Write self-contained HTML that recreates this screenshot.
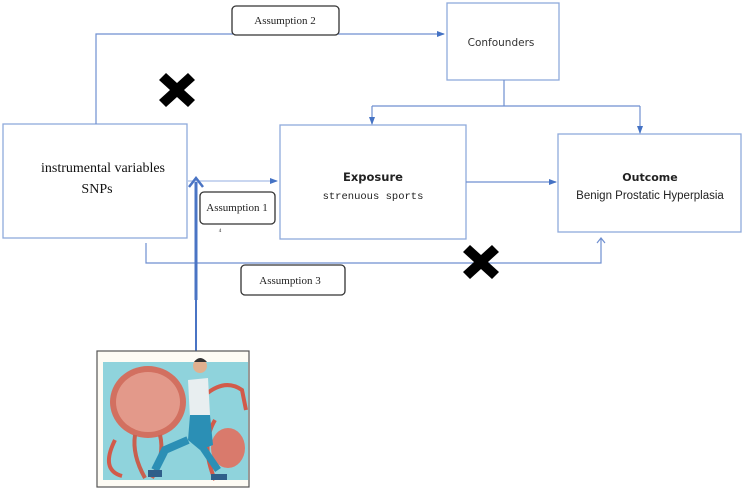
<!DOCTYPE html>
<html><head><meta charset="utf-8"><style>
html,body{margin:0;padding:0;background:#fff;}
svg{display:block;}
</style></head><body>
<svg width="745" height="492" viewBox="0 0 745 492" xmlns="http://www.w3.org/2000/svg">
<defs>
<marker id="a" markerWidth="8" markerHeight="8" refX="7" refY="4" orient="auto" markerUnits="userSpaceOnUse"><path d="M0,1 L8,4 L0,7 Z" fill="#4472c4"/></marker>
</defs>
<g fill="#fff" stroke="#8faadc" stroke-width="1.3">
<rect x="3" y="124" width="184" height="114"/>
<rect x="280" y="125" width="186" height="114"/>
<rect x="447" y="3" width="112" height="77"/>
<rect x="558" y="134" width="183" height="98"/>
</g>
<g fill="none" stroke="#6f8fd0" stroke-width="1.2">
<path d="M96,124 V34 H444" marker-end="url(#a)"/>
<path d="M504,80 V106"/>
<path d="M372,106 H640"/>
<path d="M372,106 V124" marker-end="url(#a)"/>
<path d="M640,106 V133" marker-end="url(#a)"/>
<path d="M466,182 H556" marker-end="url(#a)"/>
<path d="M188,181 H277" stroke="#a9bde6" marker-end="url(#a)"/>
<path d="M146,243 V263 H601 V238"/>
<path d="M597,243 L601,238 L605,243"/>
</g>
<line x1="196" y1="300" x2="196" y2="182" stroke="#4a74c4" stroke-width="3"/>
<line x1="196" y1="300" x2="196" y2="351" stroke="#4a74c4" stroke-width="2"/>
<path d="M189,187 L196,178 L203,187" fill="none" stroke="#4a74c4" stroke-width="2.5"/>
<g fill="#fff" stroke="#333" stroke-width="1.3">
<rect x="232" y="6" width="107" height="29" rx="4"/>
<rect x="200" y="192" width="75" height="32" rx="4"/>
<rect x="241" y="265" width="104" height="30" rx="4"/>
</g>
<g font-family="Liberation Serif, serif" font-size="11" fill="#222" text-anchor="middle">
<text x="285" y="24">Assumption 2</text>
<text x="237" y="211">Assumption 1</text>
<text x="290" y="284">Assumption 3</text>
<text x="220" y="232" font-size="5">4</text>
</g>
<g font-family="Liberation Serif, serif" font-size="14" fill="#111" text-anchor="middle">
<text x="103" y="172">instrumental variables</text>
<text x="97" y="193">SNPs</text>
</g>
<text x="373" y="181" font-family="DejaVu Sans, sans-serif" font-size="11.5" font-weight="bold" fill="#222" text-anchor="middle">Exposure</text>
<text x="373" y="199" font-family="Liberation Mono, monospace" font-size="10.5" fill="#222" text-anchor="middle">strenuous sports</text>
<text x="501" y="46" font-family="DejaVu Sans, sans-serif" font-size="10.5" fill="#333" text-anchor="middle">Confounders</text>
<text x="650" y="181" font-family="DejaVu Sans, sans-serif" font-size="11" font-weight="bold" fill="#222" text-anchor="middle">Outcome</text>
<text x="650" y="199" font-family="Liberation Sans, sans-serif" font-size="11.5" fill="#222" text-anchor="middle">Benign Prostatic Hyperplasia</text>
<g fill="#000">
<path d="M159,80 L166,73 L177,83 L188,73 L195,80 L184,90 L195,100 L188,107 L177,97 L166,107 L159,100 L170,90 Z"/>
<path d="M463,252 L470,245 L481,255 L492,245 L499,252 L488,262 L499,272 L492,279 L481,269 L470,279 L463,272 L474,262 Z"/>
</g>
<g>
<rect x="97" y="351" width="152" height="136" fill="#fdfbf4" stroke="#555" stroke-width="1.2"/>
<rect x="103" y="362" width="145" height="118" fill="#8fd3dc"/>
<ellipse cx="148" cy="402" rx="38" ry="36" fill="#d27060"/>
<ellipse cx="148" cy="402" rx="32" ry="30" fill="#e3998a"/>
<path d="M135,435 Q132,455 145,478 M160,435 Q165,455 152,478" stroke="#c8604f" stroke-width="4" fill="none"/>
<path d="M115,440 Q100,470 122,476 M205,395 Q225,378 242,390 L246,410 M215,420 Q200,445 215,480" stroke="#d25a4a" stroke-width="4" fill="none"/>
<ellipse cx="228" cy="448" rx="17" ry="20" fill="#d97a6c"/>
<circle cx="200" cy="366" r="7" fill="#e0b08f"/>
<path d="M194,362 Q200,354 207,362" fill="#333"/>
<path d="M188,380 L208,378 L210,415 L190,418 Z" fill="#e8eef0"/>
<path d="M190,415 L210,415 L213,445 L200,450 L188,440 Z" fill="#2b8fb5"/>
<path d="M188,440 L165,450 L155,470" stroke="#2b8fb5" stroke-width="8" fill="none"/>
<path d="M203,448 L218,470" stroke="#2b8fb5" stroke-width="7" fill="none"/>
<rect x="148" y="470" width="14" height="7" fill="#2f5f8a"/>
<rect x="211" y="474" width="16" height="6" fill="#2f5f8a"/>
</g>
</svg>
</body></html>
